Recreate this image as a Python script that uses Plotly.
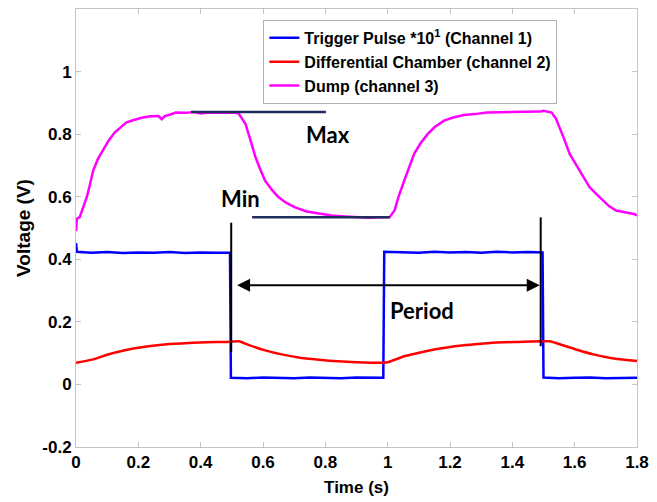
import plotly.graph_objects as go

# ---- Channel 1: trigger pulse (scaled x10) ----
trig_t = [0.000, 0.003, 0.05, 0.10, 0.15, 0.20, 0.25, 0.30, 0.35, 0.40, 0.45, 0.494,
          0.497, 0.55, 0.60, 0.65, 0.70, 0.75, 0.80, 0.85, 0.90, 0.95, 0.986,
          0.989, 1.05, 1.10, 1.15, 1.20, 1.25, 1.30, 1.35, 1.40, 1.45, 1.497,
          1.500, 1.55, 1.60, 1.65, 1.70, 1.75, 1.80]
trig_v = [0.452, 0.424, 0.421, 0.423, 0.420, 0.422, 0.421, 0.423, 0.420, 0.422, 0.421, 0.421,
          0.021, 0.020, 0.022, 0.021, 0.020, 0.022, 0.021, 0.020, 0.022, 0.021, 0.021,
          0.424, 0.423, 0.421, 0.424, 0.422, 0.423, 0.421, 0.424, 0.422, 0.423, 0.422,
          0.022, 0.020, 0.021, 0.022, 0.020, 0.021, 0.021]

# ---- Channel 2: differential chamber ----
diff_t = [0.00, 0.055, 0.10, 0.161, 0.20, 0.268, 0.30, 0.374, 0.42, 0.48, 0.50, 0.522,
          0.56, 0.607, 0.66, 0.714, 0.78, 0.841, 0.90, 0.978, 1.00, 1.053, 1.10,
          1.137, 1.19, 1.245, 1.30, 1.35, 1.42, 1.50, 1.52, 1.56, 1.61, 1.66, 1.72, 1.76, 1.80]
diff_v = [0.069, 0.080, 0.095, 0.110, 0.117, 0.126, 0.129, 0.133, 0.135, 0.136, 0.137, 0.138,
          0.124, 0.109, 0.096, 0.086, 0.079, 0.074, 0.071, 0.069, 0.071, 0.090, 0.101,
          0.109, 0.118, 0.125, 0.130, 0.134, 0.136, 0.138, 0.138, 0.126, 0.110, 0.096, 0.084, 0.079, 0.075]

# ---- Channel 3: dump ----
dump_t = [0.000, 0.003, 0.012, 0.023, 0.035, 0.045, 0.055, 0.070, 0.087, 0.105, 0.124, 0.140,
          0.161, 0.185, 0.214, 0.240, 0.265, 0.275, 0.285, 0.300, 0.321, 0.350, 0.380, 0.400,
          0.430, 0.460, 0.490, 0.510, 0.522, 0.535, 0.544, 0.560, 0.576, 0.590, 0.607, 0.630,
          0.650, 0.675, 0.703, 0.740, 0.777, 0.820, 0.862, 0.900, 0.940, 0.980, 1.006, 1.022,
          1.035, 1.053, 1.070, 1.085, 1.105, 1.128, 1.150, 1.181, 1.210, 1.245, 1.280, 1.319,
          1.360, 1.400, 1.450, 1.490, 1.500, 1.526, 1.540, 1.552, 1.568, 1.584, 1.600, 1.616,
          1.632, 1.648, 1.670, 1.691, 1.710, 1.733, 1.755, 1.775, 1.790, 1.800]
dump_v = [0.490, 0.530, 0.535, 0.566, 0.600, 0.640, 0.683, 0.720, 0.747, 0.780, 0.805, 0.820,
          0.837, 0.845, 0.853, 0.857, 0.858, 0.848, 0.858, 0.862, 0.869, 0.868, 0.871, 0.866,
          0.869, 0.868, 0.869, 0.869, 0.866, 0.845, 0.832, 0.780, 0.726, 0.690, 0.651, 0.620,
          0.598, 0.580, 0.566, 0.553, 0.547, 0.540, 0.537, 0.535, 0.533, 0.534, 0.534, 0.556,
          0.600, 0.651, 0.700, 0.737, 0.770, 0.800, 0.822, 0.843, 0.853, 0.861, 0.864, 0.869,
          0.870, 0.871, 0.872, 0.872, 0.875, 0.869, 0.850, 0.821, 0.780, 0.737, 0.710, 0.683,
          0.655, 0.630, 0.608, 0.588, 0.570, 0.556, 0.552, 0.550, 0.545, 0.540]

# ---- Annotation levels ----
max_level = 0.871
min_level = 0.534
edge_a = 0.498
edge_b = 1.491

x_ticks = [0, 0.2, 0.4, 0.6, 0.8, 1, 1.2, 1.4, 1.6, 1.8]
y_ticks = [-0.2, 0, 0.2, 0.4, 0.6, 0.8, 1]

fig = go.Figure()
fig.add_trace(go.Scatter(x=trig_t, y=trig_v, mode="lines", line=dict(color="#0000ff", width=2.5),
                         name="Trigger Pulse *10<sup>1</sup> (Channel 1)"))
fig.add_trace(go.Scatter(x=diff_t, y=diff_v, mode="lines",
                         line=dict(color="#ff0000", width=2.5, shape="spline", smoothing=0.6),
                         name="Differential Chamber (channel 2)"))
fig.add_trace(go.Scatter(x=dump_t, y=dump_v, mode="lines", line=dict(color="#ff00ff", width=2.5),
                         name="Dump (channel 3)"))

navy = "#1f2d5c"
# Max / Min reference levels
fig.add_shape(type="line", x0=0.369, x1=0.802, y0=max_level, y1=max_level,
              line=dict(color=navy, width=2.5))
fig.add_shape(type="line", x0=0.565, x1=1.006, y0=min_level, y1=min_level,
              line=dict(color=navy, width=2.5))
# Period markers
fig.add_shape(type="line", x0=edge_a, x1=edge_a, y0=0.104, y1=0.517,
              line=dict(color="black", width=2))
fig.add_shape(type="line", x0=edge_b, x1=edge_b, y0=0.122, y1=0.534,
              line=dict(color="black", width=2))
fig.add_annotation(x=1.488, y=0.317, ax=0.512, ay=0.317, xref="x", yref="y",
                   axref="x", ayref="y", text="", showarrow=True,
                   arrowhead=2, arrowside="end+start", arrowsize=1.3, arrowwidth=2,
                   arrowcolor="black")

txt_font = dict(family="Lato", size=22, color="black", weight="bold")
fig.add_annotation(x=0.81, y=0.80, text="<b>Max</b>", showarrow=False, font=txt_font)
fig.add_annotation(x=0.527, y=0.595, text="<b>Min</b>", showarrow=False, font=txt_font)
fig.add_annotation(x=1.11, y=0.237, text="<b>Period</b>", showarrow=False, font=txt_font)

axis_common = dict(showline=True, linecolor="#c4c4c4", linewidth=1, mirror="ticks",
                   ticks="inside", ticklen=5, tickcolor="#c4c4c4", showgrid=False,
                   zeroline=False,
                   tickfont=dict(family="Liberation Sans", size=17, color="black", weight="bold"))

fig.update_layout(
    width=657, height=502,
    margin=dict(l=76, r=16, t=8, b=55),
    plot_bgcolor="white", paper_bgcolor="white",
    xaxis=dict(range=[0, 1.8], tickvals=x_ticks, ticktext=[f"{v:g}" for v in x_ticks],
               title=dict(text="<b>Time (s)</b>", standoff=9,
                          font=dict(family="Liberation Sans", size=17, color="black")),
               **axis_common),
    yaxis=dict(range=[-0.2, 1.2], tickvals=y_ticks, ticktext=[f"{v:g}" for v in y_ticks],
               title=dict(text="<b>Voltage (V)</b>", standoff=6,
                          font=dict(family="Liberation Sans", size=19, color="black")),
               **axis_common),
    legend=dict(x=0.334, y=0.975, xanchor="left", yanchor="top",
                bgcolor="white", bordercolor="#b0b0b0", borderwidth=1,
                font=dict(family="Liberation Sans", size=16, color="black", weight="bold"),
                tracegroupgap=0, itemwidth=30),
    showlegend=True,
)

fig.write_html("out.html")
